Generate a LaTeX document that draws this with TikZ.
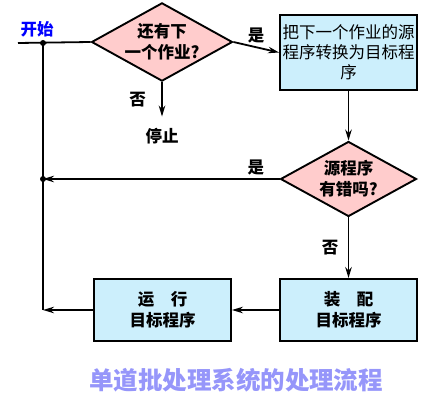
\documentclass[tikz,border=0pt]{standalone}
\usepackage{fontspec}
\newfontfamily\cjk{Noto Sans CJK SC}
\usetikzlibrary{shapes.geometric, arrows.meta}
\definecolor{titleblue}{RGB}{150,150,250}

\begin{document}
\begin{tikzpicture}[
    x=1pt, y=-1pt,
    font=\cjk\bfseries\fontsize{16.5}{21}\selectfont,
    box/.style={draw, rectangle, line width=1.9pt, fill=cyan!20, minimum width=137pt, minimum height=62pt, inner sep=0pt, align=center},
    decision/.style={draw, diamond, line width=1.9pt, fill=red!20, aspect=1.8, minimum width=136pt, minimum height=75pt, inner sep=0pt, align=center},
    line/.style={line width=1.8pt},
    arrow/.style={line width=1.8pt, -{Stealth[length=11pt,width=6.5pt]}}
]
    \useasboundingbox (0,0) rectangle (437,406);

    % Main loop
    \coordinate (entry) at (18,43);
    \coordinate (join) at (43,43);
    \node (start) [text=blue] at (37,29) {开始};
    \node (more) [decision] at (162,42) {还有下\\一个作业?};
    \node (stop) at (162,136) {停止};
    \node (convert) [box, minimum height=75pt, font=\cjk\fontsize{16.5}{20}\selectfont] at (348.5,52.5) {把下一个作业的源\\程序转换为目标程\\序};
    \node (error) [decision] at (348.5,179) {源程序\\有错吗?};

    % Bottom row
    \node (load) [box] at (348.5,310) {装\hspace{1em}配\\目标程序};
    \node (run) [box] at (162.5,310) {运\hspace{1em}行\\目标程序};
    \coordinate (back) at (43,179);
    \coordinate (bottom) at (43,310);

    \node (title) [text=titleblue, font=\cjk\bfseries\fontsize{24.5}{28}\selectfont] at (236,380) {单道批处理系统的处理流程};

    % Connections
    \draw [line] (entry) -- (more.west);
    \draw [line] (join) -- (bottom);
    \fill (join) circle (3pt);
    \draw [arrow] (more.south) -- node[left=12pt] {否} ([yshift=8pt]stop.north);
    \draw [arrow] (more.east) -- node[above] {是} (convert.west);
    \draw [arrow] (convert.south) -- (error.north);
    \draw [arrow] (error.west) -- node[above, pos=0.1] {是} (back);
    \fill (back) circle (3pt);
    \draw [arrow] (error.south) -- node[left=6pt] {否} (load.north);
    \draw [arrow] (load.west) -- (run.east);
    \draw [arrow] (run.west) -- (bottom);
\end{tikzpicture}
\end{document}
